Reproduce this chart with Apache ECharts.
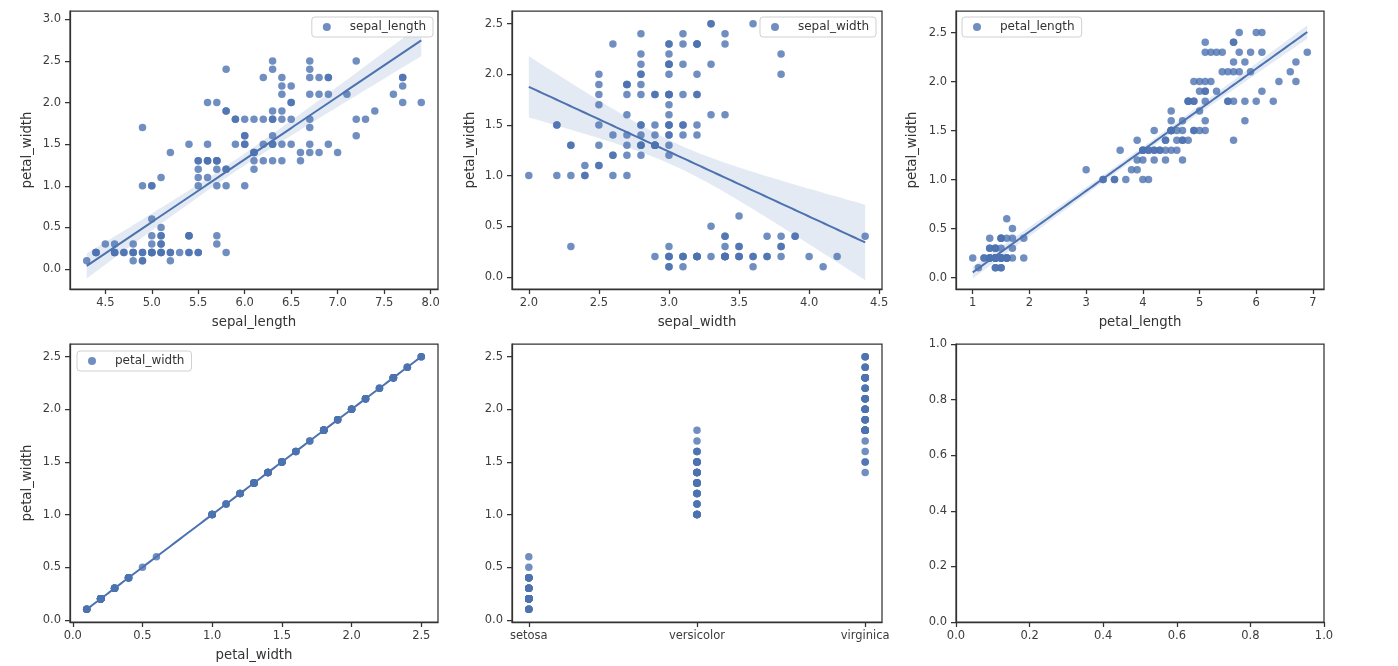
<!DOCTYPE html>
<html>
<head>
  <meta charset="utf-8">
  <title>iris regplots</title>
  <style>
    body { margin: 0; padding: 0; background-color: white; }
    #main { width: 1398px; height: 666px; }
  </style>
</head>
<body>
<div id="main"></div>
<script src="https://cdn.jsdelivr.net/npm/echarts@6/dist/echarts.min.js"></script>
<script>
// iris measurements, 150 rows in order (setosa, versicolor, virginica)
var sepalLength = [
  5.1,4.9,4.7,4.6,5.0,5.4,4.6,5.0,4.4,4.9,5.4,4.8,4.8,4.3,5.8,5.7,5.4,5.1,5.7,5.1,5.4,5.1,4.6,5.1,4.8,
  5.0,5.0,5.2,5.2,4.7,4.8,5.4,5.2,5.5,4.9,5.0,5.5,4.9,4.4,5.1,5.0,4.5,4.4,5.0,5.1,4.8,5.1,4.6,5.3,5.0,
  7.0,6.4,6.9,5.5,6.5,5.7,6.3,4.9,6.6,5.2,5.0,5.9,6.0,6.1,5.6,6.7,5.6,5.8,6.2,5.6,5.9,6.1,6.3,6.1,6.4,
  6.6,6.8,6.7,6.0,5.7,5.5,5.5,5.8,6.0,5.4,6.0,6.7,6.3,5.6,5.5,5.5,6.1,5.8,5.0,5.6,5.7,5.7,6.2,5.1,5.7,
  6.3,5.8,7.1,6.3,6.5,7.6,4.9,7.3,6.7,7.2,6.5,6.4,6.8,5.7,5.8,6.4,6.5,7.7,7.7,6.0,6.9,5.6,7.7,6.3,6.7,
  7.2,6.2,6.1,6.4,7.2,7.4,7.9,6.4,6.3,6.1,7.7,6.3,6.4,6.0,6.9,6.7,6.9,5.8,6.8,6.7,6.7,6.3,6.5,6.2,5.9
];
var sepalWidth = [
  3.5,3.0,3.2,3.1,3.6,3.9,3.4,3.4,2.9,3.1,3.7,3.4,3.0,3.0,4.0,4.4,3.9,3.5,3.8,3.8,3.4,3.7,3.6,3.3,3.4,
  3.0,3.4,3.5,3.4,3.2,3.1,3.4,4.1,4.2,3.1,3.2,3.5,3.6,3.0,3.4,3.5,2.3,3.2,3.5,3.8,3.0,3.8,3.2,3.7,3.3,
  3.2,3.2,3.1,2.3,2.8,2.8,3.3,2.4,2.9,2.7,2.0,3.0,2.2,2.9,2.9,3.1,3.0,2.7,2.2,2.5,3.2,2.8,2.5,2.8,2.9,
  3.0,2.8,3.0,2.9,2.6,2.4,2.4,2.7,2.7,3.0,3.4,3.1,2.3,3.0,2.5,2.6,3.0,2.6,2.3,2.7,3.0,2.9,2.9,2.5,2.8,
  3.3,2.7,3.0,2.9,3.0,3.0,2.5,2.9,2.5,3.6,3.2,2.7,3.0,2.5,2.8,3.2,3.0,3.8,2.6,2.2,3.2,2.8,2.8,2.7,3.3,
  3.2,2.8,3.0,2.8,3.0,2.8,3.8,2.8,2.8,2.6,3.0,3.4,3.1,3.0,3.1,3.1,3.1,2.7,3.2,3.3,3.0,2.5,3.0,3.4,3.0
];
var petalLength = [
  1.4,1.4,1.3,1.5,1.4,1.7,1.4,1.5,1.4,1.5,1.5,1.6,1.4,1.1,1.2,1.5,1.3,1.4,1.7,1.5,1.7,1.5,1.0,1.7,1.9,
  1.6,1.6,1.5,1.4,1.6,1.6,1.5,1.5,1.4,1.5,1.2,1.3,1.4,1.3,1.5,1.3,1.3,1.3,1.6,1.9,1.4,1.6,1.4,1.5,1.4,
  4.7,4.5,4.9,4.0,4.6,4.5,4.7,3.3,4.6,3.9,3.5,4.2,4.0,4.7,3.6,4.4,4.5,4.1,4.5,3.9,4.8,4.0,4.9,4.7,4.3,
  4.4,4.8,5.0,4.5,3.5,3.8,3.7,3.9,5.1,4.5,4.5,4.7,4.4,4.1,4.0,4.4,4.6,4.0,3.3,4.2,4.2,4.2,4.3,3.0,4.1,
  6.0,5.1,5.9,5.6,5.8,6.6,4.5,6.3,5.8,6.1,5.1,5.3,5.5,5.0,5.1,5.3,5.5,6.7,6.9,5.0,5.7,4.9,6.7,4.9,5.7,
  6.0,4.8,4.9,5.6,5.8,6.1,6.4,5.6,5.1,5.6,6.1,5.6,5.5,4.8,5.4,5.6,5.1,5.1,5.9,5.7,5.2,5.0,5.2,5.4,5.1
];
var petalWidth = [
  0.2,0.2,0.2,0.2,0.2,0.4,0.3,0.2,0.2,0.1,0.2,0.2,0.1,0.1,0.2,0.4,0.4,0.3,0.3,0.3,0.2,0.4,0.2,0.5,0.2,
  0.2,0.4,0.2,0.2,0.2,0.2,0.4,0.1,0.2,0.2,0.2,0.2,0.1,0.2,0.2,0.3,0.3,0.2,0.6,0.4,0.3,0.2,0.2,0.2,0.2,
  1.4,1.5,1.5,1.3,1.5,1.3,1.6,1.0,1.3,1.4,1.0,1.5,1.0,1.4,1.3,1.4,1.5,1.0,1.5,1.1,1.8,1.3,1.5,1.2,1.3,
  1.4,1.4,1.7,1.5,1.0,1.1,1.0,1.2,1.6,1.5,1.6,1.5,1.3,1.3,1.3,1.2,1.4,1.2,1.0,1.3,1.2,1.3,1.3,1.1,1.3,
  2.5,1.9,2.1,1.8,2.2,2.1,1.7,1.8,1.8,2.5,2.0,1.9,2.1,2.0,2.4,2.3,1.8,2.2,2.3,1.5,2.3,2.0,2.0,1.8,2.1,
  1.8,1.8,1.8,2.1,1.6,1.9,2.0,2.2,1.5,1.4,2.3,2.4,1.8,1.8,2.1,2.4,2.3,1.9,2.3,2.5,2.3,1.9,2.0,2.3,1.8
];
var speciesNames = ['setosa', 'versicolor', 'virginica'];
var speciesCode = [
  0,0,0,0,0,0,0,0,0,0,0,0,0,0,0,0,0,0,0,0,0,0,0,0,0,0,0,0,0,0,0,0,0,0,0,0,0,0,0,0,0,0,0,0,0,0,0,0,0,0,
  1,1,1,1,1,1,1,1,1,1,1,1,1,1,1,1,1,1,1,1,1,1,1,1,1,1,1,1,1,1,1,1,1,1,1,1,1,1,1,1,1,1,1,1,1,1,1,1,1,1,
  2,2,2,2,2,2,2,2,2,2,2,2,2,2,2,2,2,2,2,2,2,2,2,2,2,2,2,2,2,2,2,2,2,2,2,2,2,2,2,2,2,2,2,2,2,2,2,2,2,2
];

// tick labels of each panel
var ticksHalf25 = [0.0, 0.5, 1.0, 1.5, 2.0, 2.5];
var ticksHalf30 = [0.0, 0.5, 1.0, 1.5, 2.0, 2.5, 3.0];
var ticksSepalLength = [4.5, 5.0, 5.5, 6.0, 6.5, 7.0, 7.5, 8.0];
var ticksSepalWidth = [2.0, 2.5, 3.0, 3.5, 4.0, 4.5];
var ticksPetalLength = [1, 2, 3, 4, 5, 6, 7];
var ticksUnit = [0.0, 0.2, 0.4, 0.6, 0.8, 1.0];
var ticksSpecies = [0, 1, 2];

var BLUE = '#4c72b0';
var FONT = 'DejaVu Sans';

// least squares fit with a 95% band for the mean
function regress(xs, ys) {
  var n = xs.length, mx = 0, my = 0, i;
  for (i = 0; i < n; i++) { mx += xs[i]; my += ys[i]; }
  mx /= n; my /= n;
  var sxx = 0, sxy = 0;
  for (i = 0; i < n; i++) { sxx += (xs[i] - mx) * (xs[i] - mx); sxy += (xs[i] - mx) * (ys[i] - my); }
  var b = sxy / sxx, a = my - b * mx, sse = 0;
  for (i = 0; i < n; i++) { var r = ys[i] - (a + b * xs[i]); sse += r * r; }
  var s = Math.sqrt(sse / (n - 2));
  var lo = Math.min.apply(null, xs), hi = Math.max.apply(null, xs);
  var line = [], upper = [], lower = [];
  for (i = 0; i <= 100; i++) {
    var x = lo + (hi - lo) * i / 100;
    var y = a + b * x;
    var h = 1.976 * s * Math.sqrt(1 / n + (x - mx) * (x - mx) / sxx);
    line.push([x, y]); upper.push([x, y + h]); lower.push([x, y - h]);
  }
  return { line: line, upper: upper, lower: lower };
}

function pairs(xs, ys) {
  return xs.map(function (x, i) { return [x, ys[i]]; });
}

var f1 = function (v) { return v.toFixed(1); };
var f0 = function (v) { return String(v); };

function axis(g, min, max, ticks, fmt, name, gap, margin) {
  return {
    type: 'value', gridIndex: g, min: min, max: max,
    name: name, nameLocation: 'middle', nameGap: gap,
    nameTextStyle: { fontSize: 13.3, color: '#333', fontFamily: FONT },
    axisLine: { show: true, onZero: false, lineStyle: { color: '#333', width: 1.25 } },
    axisTick: { show: true, length: 5, customValues: ticks, lineStyle: { color: '#333', width: 1.25 } },
    axisLabel: { customValues: ticks, formatter: fmt, fontSize: 11.5, color: '#3c3c3c', margin: margin, fontFamily: FONT },
    splitLine: { show: false }
  };
}

function scatter(g, name, data) {
  return {
    type: 'scatter', name: name, xAxisIndex: g, yAxisIndex: g, data: data,
    symbolSize: 7.5, z: 2,
    itemStyle: { color: BLUE, opacity: 0.8 }
  };
}

function fitLine(g, fit) {
  return {
    type: 'line', name: 'fit' + g, xAxisIndex: g, yAxisIndex: g, data: fit.line,
    showSymbol: false, z: 4, lineStyle: { color: BLUE, width: 2 }
  };
}

function band(g, fit) {
  return {
    type: 'custom', name: 'ci' + g, xAxisIndex: g, yAxisIndex: g, silent: true, z: 1,
    data: [fit.line[0]],
    renderItem: function (params, api) {
      var pts = fit.upper.map(function (p) { return api.coord(p); });
      var low = fit.lower.slice().reverse().map(function (p) { return api.coord(p); });
      return { type: 'polygon', shape: { points: pts.concat(low) }, style: { fill: 'rgba(76,114,176,0.15)' } };
    }
  };
}

function legend(name, pos) {
  var l = {
    data: [name], orient: 'horizontal', icon: 'circle', itemWidth: 14, itemHeight: 8,
    backgroundColor: 'rgba(255,255,255,0.8)', borderColor: '#d0d0d0', borderWidth: 1, borderRadius: 3,
    padding: [4, 7, 4, 11], selectedMode: false,
    textStyle: { fontSize: 12, color: '#333', fontFamily: FONT, padding: [0, 0, 0, 11] }
  };
  for (var k in pos) l[k] = pos[k];
  return l;
}

var fit1 = regress(sepalLength, petalWidth);
var fit2 = regress(sepalWidth, petalWidth);
var fit3 = regress(petalLength, petalWidth);
var fit4 = regress(petalWidth, petalWidth);

var chart = echarts.init(document.getElementById('main'));
var gridStyle = { show: true, borderColor: '#333', borderWidth: 1.25 };
function grid(left, top, w, h) {
  return Object.assign({ left: left, top: top, width: w, height: h }, gridStyle);
}

chart.setOption({
  animation: false,
  backgroundColor: '#fff',
  grid: [
    grid(70, 11, 368, 278), grid(512, 11, 370, 278), grid(956, 11, 368, 278),
    grid(70, 344, 368, 278), grid(512, 344, 370, 278), grid(956, 344, 368, 278)
  ],
  legend: [
    legend('sepal_length', { right: 965, top: 17 }),
    legend('sepal_width', { right: 522, top: 17 }),
    legend('petal_length', { left: 962, top: 17 }),
    legend('petal_width', { left: 77, top: 351 })
  ],
  xAxis: [
    axis(0, 4.12, 8.08, ticksSepalLength, f1, 'sepal_length', 27, 8),
    axis(1, 1.88, 4.52, ticksSepalWidth, f1, 'sepal_width', 27, 8),
    axis(2, 0.705, 7.195, ticksPetalLength, f0, 'petal_length', 27, 8),
    axis(3, -0.02, 2.62, ticksHalf25, f1, 'petal_width', 27, 8),
    axis(4, -0.1, 2.1, ticksSpecies, function (v) { return speciesNames[v]; }, '', 27, 8),
    axis(5, 0, 1, ticksUnit, f1, '', 27, 8)
  ],
  yAxis: [
    axis(0, -0.24, 3.1, ticksHalf30, f1, 'petal_width', 36, 9),
    axis(1, -0.12, 2.625, ticksHalf25, f1, 'petal_width', 35, 9),
    axis(2, -0.117, 2.72, ticksHalf25, f1, 'petal_width', 37, 9),
    axis(3, -0.02, 2.62, ticksHalf25, f1, 'petal_width', 36, 9),
    axis(4, -0.02, 2.62, ticksHalf25, f1, '', 36, 9),
    axis(5, 0, 1, ticksUnit, f1, '', 36, 9)
  ],
  series: [
    band(0, fit1), scatter(0, 'sepal_length', pairs(sepalLength, petalWidth)), fitLine(0, fit1),
    band(1, fit2), scatter(1, 'sepal_width', pairs(sepalWidth, petalWidth)), fitLine(1, fit2),
    band(2, fit3), scatter(2, 'petal_length', pairs(petalLength, petalWidth)), fitLine(2, fit3),
    band(3, fit4), scatter(3, 'petal_width', pairs(petalWidth, petalWidth)), fitLine(3, fit4),
    scatter(4, 'species', pairs(speciesCode, petalWidth))
  ]
});
</script>
</body>
</html>
